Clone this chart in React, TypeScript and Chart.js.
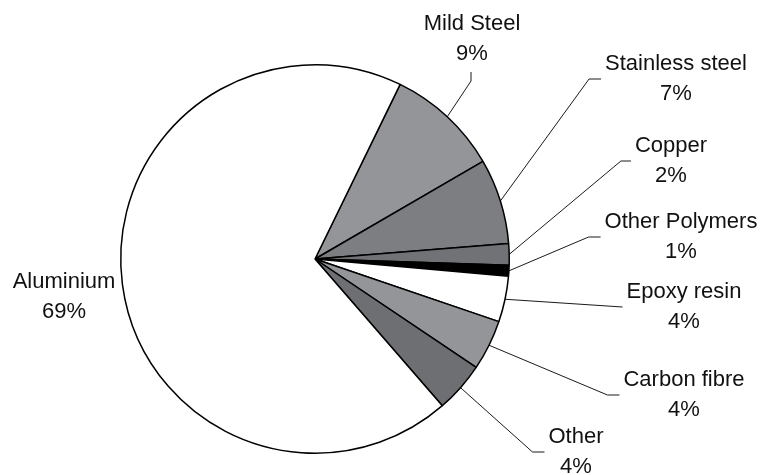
import React, { useEffect, useRef } from "react";
import { Chart, registerables } from "chart.js";

Chart.register(...registerables);

const categories = [
  "Mild Steel",
  "Stainless steel",
  "Copper",
  "Other Polymers",
  "Epoxy resin",
  "Carbon fibre",
  "Other",
  "Aluminium",
];
const shares = [9.4, 7.1, 1.8, 0.9, 3.8, 4.2, 4.2, 68.6];
const sliceColors = [
  "#939598",
  "#7c7e81",
  "#707275",
  "#000000",
  "#ffffff",
  "#939598",
  "#6d6f72",
  "#ffffff",
];

// label block centres and leader style (layout only)
const labelLayout = [
  { cx: 472, cy: 39, dir: "below", elbow: 9 },
  { cx: 676, cy: 79, dir: "right", elbow: 12 },
  { cx: 671, cy: 161, dir: "right", elbow: 10 },
  { cx: 681, cy: 237, dir: "right", elbow: 12 },
  { cx: 684, cy: 307, dir: "right", elbow: 0 },
  { cx: 684, cy: 395, dir: "right", elbow: 12 },
  { cx: 576, cy: 452, dir: "right", elbow: 12 },
  { cx: 64, cy: 297, dir: "none", elbow: 0 },
];

const FONT = "22px 'Liberation Sans', Arial, sans-serif";
const LINE_H = 30;

const labelPlugin = {
  id: "leaderLabels",
  afterDraw(chart: any) {
    const ctx = chart.ctx;
    const meta = chart.getDatasetMeta(0);
    const data = chart.data.datasets[0].data as number[];
    const total = data.reduce((a, b) => a + b, 0);
    ctx.save();
    ctx.font = FONT;
    ctx.textAlign = "center";
    ctx.textBaseline = "middle";
    meta.data.forEach((arc: any, i: number) => {
      const lay = labelLayout[i];
      const name = chart.data.labels[i];
      const pct = Math.round((data[i] / total) * 100) + "%";
      const w = Math.max(ctx.measureText(name).width, ctx.measureText(pct).width);
      const mid = (arc.startAngle + arc.endAngle) / 2;
      const R = arc.outerRadius;
      const sx = arc.x + R * Math.cos(mid);
      const sy = arc.y + R * Math.sin(mid);
      if (lay.dir !== "none") {
        let ex: number, ey: number, kx: number, ky: number;
        if (lay.dir === "right") {
          ex = lay.cx - w / 2 - 4;
          ey = lay.cy;
          kx = ex - lay.elbow;
          ky = ey;
        } else {
          ex = lay.cx - 1;
          ey = lay.cy + LINE_H / 2 + 18;
          kx = ex;
          ky = ey + lay.elbow;
        }
        ctx.beginPath();
        ctx.strokeStyle = "#000";
        ctx.lineWidth = 0.9;
        ctx.moveTo(sx, sy);
        ctx.lineTo(kx, ky);
        ctx.lineTo(ex, ey);
        ctx.stroke();
      }
      ctx.fillStyle = "#111";
      ctx.fillText(name, lay.cx, lay.cy - LINE_H / 2);
      ctx.fillText(pct, lay.cx, lay.cy + LINE_H / 2);
    });
    ctx.restore();
  },
};

export default function App() {
  const ref = useRef<HTMLCanvasElement>(null);
  useEffect(() => {
    if (!ref.current) return;
    const chart = new Chart(ref.current, {
      type: "pie",
      data: {
        labels: categories,
        datasets: [
          {
            data: shares,
            backgroundColor: sliceColors,
            borderColor: "#000",
            borderWidth: 1.5,
            hoverOffset: 0,
          },
        ],
      },
      options: {
        animation: false,
        responsive: false,
        devicePixelRatio: 1,
        rotation: 26,
        layout: { padding: { left: 120, top: 64, right: 252, bottom: 21 } },
        plugins: { legend: { display: false }, tooltip: { enabled: false } },
      },
      plugins: [labelPlugin],
    });
    return () => chart.destroy();
  }, []);
  return (
    <div style={{ position: "absolute", left: 0, top: 0, width: 762, height: 475, background: "#fff" }}>
      <canvas ref={ref} width={762} height={475} />
    </div>
  );
}
